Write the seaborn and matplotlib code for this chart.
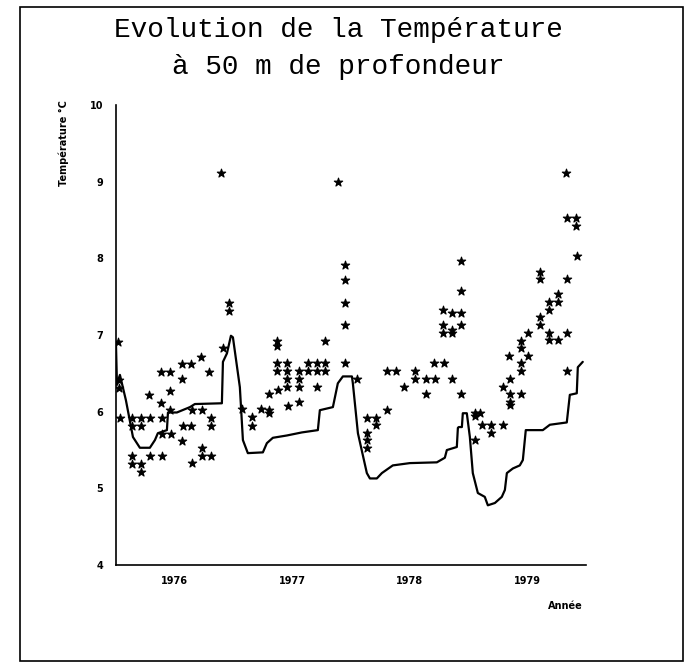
import numpy as np
import pandas as pd
import matplotlib
matplotlib.use("Agg")
import matplotlib.pyplot as plt
from matplotlib.patches import Rectangle
import seaborn as sns

# Courbe (temperature modelisee), annee decimale / degres C
annee_courbe = [1976.000, 1976.009, 1976.034, 1976.085, 1976.145, 1976.204, 1976.289,
                1976.332, 1976.357, 1976.434, 1976.443, 1976.519, 1976.630, 1976.672,
                1976.902, 1976.911, 1976.945, 1976.979, 1976.996, 1977.055, 1977.081,
                1977.123, 1977.251, 1977.285, 1977.336, 1977.455, 1977.583, 1977.719,
                1977.736, 1977.847, 1977.889, 1977.932, 1978.009, 1978.017, 1978.060,
                1978.136, 1978.162, 1978.221, 1978.264, 1978.357, 1978.502, 1978.732,
                1978.800, 1978.817, 1978.902, 1978.911, 1978.919, 1978.945, 1978.953,
                1978.987, 1979.013, 1979.038, 1979.081, 1979.140, 1979.166, 1979.226,
                1979.285, 1979.311, 1979.328, 1979.379, 1979.438, 1979.464, 1979.489,
                1979.566, 1979.634, 1979.694, 1979.838, 1979.864, 1979.923, 1979.932,
                1979.974]
temp_courbe = [6.91, 6.35, 6.48, 6.15, 5.67, 5.53, 5.53,
               5.63, 5.72, 5.76, 5.99, 5.99, 6.06, 6.10,
               6.11, 6.65, 6.76, 6.99, 6.97, 6.32, 5.63,
               5.46, 5.47, 5.59, 5.66, 5.69, 5.73, 5.76,
               6.02, 6.06, 6.37, 6.46, 6.46, 6.37, 5.72,
               5.20, 5.13, 5.13, 5.20, 5.30, 5.33, 5.34,
               5.40, 5.50, 5.54, 5.79, 5.80, 5.80, 5.98,
               5.98, 5.67, 5.20, 4.94, 4.89, 4.78, 4.81,
               4.89, 4.98, 5.20, 5.26, 5.30, 5.37, 5.76,
               5.76, 5.76, 5.83, 5.86, 6.22, 6.24, 6.58,
               6.65]

# Mesures (points)
annee_mes = [1976.017, 1976.026, 1976.026, 1976.034, 1976.136, 1976.136, 1976.213, 1976.213,
             1976.289, 1976.391, 1976.136, 1976.136, 1976.213, 1976.213, 1976.289, 1976.391,
             1976.281, 1976.383, 1976.383, 1976.460, 1976.460, 1976.562, 1976.638, 1976.562,
             1976.723, 1976.791, 1976.391, 1976.468, 1976.460, 1976.570, 1976.638, 1976.562,
             1976.647, 1976.732, 1976.732, 1976.732, 1976.809, 1976.647, 1976.809, 1976.809,
             1976.911, 1976.962, 1976.962, 1976.894,
             1977.072, 1977.157, 1977.157, 1977.234, 1977.302, 1977.302, 1977.302, 1977.379,
             1977.370, 1977.370, 1977.370, 1977.370, 1977.455, 1977.455, 1977.455, 1977.455,
             1977.557, 1977.557, 1977.557, 1977.557, 1977.464, 1977.634, 1977.711, 1977.779,
             1977.634, 1977.711, 1977.779, 1977.711, 1977.779, 1977.889, 1977.949, 1977.949,
             1977.949, 1977.949, 1977.949,
             1978.051, 1978.136, 1978.213, 1978.213, 1978.136, 1978.136, 1978.136, 1978.306,
             1978.306, 1978.383, 1978.451, 1978.545, 1978.545, 1978.638, 1978.715, 1978.638,
             1978.706, 1978.791, 1978.860, 1978.936, 1978.783, 1978.783, 1978.783, 1978.860,
             1978.936, 1978.860, 1978.860, 1978.936, 1978.936, 1978.936,
             1979.055, 1979.098, 1979.055, 1979.115, 1979.191, 1979.191, 1979.055, 1979.294,
             1979.294, 1979.353, 1979.353, 1979.353, 1979.353, 1979.447, 1979.345, 1979.447,
             1979.447, 1979.447, 1979.447, 1979.506, 1979.506, 1979.609, 1979.609, 1979.609,
             1979.609, 1979.685, 1979.685, 1979.762, 1979.762, 1979.685, 1979.685, 1979.762,
             1979.838, 1979.838, 1979.838, 1979.838, 1979.915, 1979.915, 1979.923, 1979.830]
temp_mes = [6.91, 6.41, 6.31, 5.92, 5.92, 5.81, 5.92, 5.81,
            5.92, 5.92, 5.42, 5.32, 5.32, 5.21, 5.42, 5.42,
            6.22, 6.11, 6.52, 6.52, 6.27, 6.62, 6.62, 6.43,
            6.71, 6.52, 5.71, 5.71, 6.02, 5.81, 5.81, 5.62,
            6.02, 6.02, 5.53, 5.42, 5.42, 5.33, 5.92, 5.81,
            6.83, 7.42, 7.31, 9.11,
            6.03, 5.93, 5.81, 6.03, 6.02, 5.98, 6.23, 6.28,
            6.92, 6.86, 6.63, 6.53, 6.63, 6.53, 6.43, 6.32,
            6.53, 6.43, 6.32, 6.13, 6.07, 6.63, 6.63, 6.63,
            6.53, 6.53, 6.53, 6.32, 6.92, 8.99, 7.91, 7.72,
            7.42, 7.13, 6.63,
            6.43, 5.92, 5.92, 5.83, 5.72, 5.63, 5.53, 6.02,
            6.53, 6.53, 6.32, 6.53, 6.43, 6.43, 6.43, 6.23,
            6.63, 6.63, 6.43, 6.23, 7.32, 7.13, 7.02, 7.29,
            7.29, 7.06, 7.02, 7.13, 7.96, 7.57,
            5.98, 5.98, 5.94, 5.83, 5.83, 5.72, 5.63, 5.83,
            6.32, 6.23, 6.13, 6.09, 6.43, 6.23, 6.72, 6.63,
            6.53, 6.83, 6.92, 6.72, 7.02, 7.23, 7.13, 7.82,
            7.73, 7.43, 7.32, 7.43, 7.53, 7.02, 6.93, 6.93,
            7.02, 6.53, 7.73, 8.52, 8.52, 8.42, 8.03, 9.11]

annees = [1976, 1977, 1978, 1979]
yticks = [4, 5, 6, 7, 8, 9, 10]

df_courbe = pd.DataFrame({"Annee": annee_courbe, "Temp": temp_courbe})
df_mes = pd.DataFrame({"Annee": annee_mes, "Temp": temp_mes})

sns.set_style("white")
plt.rcParams["font.family"] = ["DejaVu Sans"]
plt.rcParams["text.color"] = "black"
plt.rcParams["xtick.color"] = "black"
plt.rcParams["ytick.color"] = "black"

fig = plt.figure(figsize=(6.9, 6.68), dpi=100)
ax = fig.add_axes([0.168, 0.154, 0.681, 0.689])

sns.lineplot(data=df_courbe, x="Annee", y="Temp", sort=False, color="black",
             linewidth=1.6, ax=ax)
sns.scatterplot(data=df_mes, x="Annee", y="Temp", marker="*", s=40, color="black",
                edgecolor="black", linewidth=0.8, ax=ax, zorder=3)

ax.set_xlim(1976, 1980)
ax.set_ylim(4, 10)
ax.set_yticks(yticks)
ax.set_yticklabels([str(v) for v in yticks], fontsize=7, fontweight="bold")
ax.set_xticks([a + 1 for a in annees])
ax.set_xticklabels([])
ax.set_xticks([a + 0.5 for a in annees], minor=True)
ax.set_xticklabels([str(a) for a in annees], minor=True, fontsize=7, fontweight="bold")
ax.tick_params(axis="x", which="minor", length=0, pad=8)
ax.tick_params(axis="x", which="major", direction="out", length=5, width=1, color="black")
ax.tick_params(axis="y", direction="out", length=5, width=1, color="black", pad=4)
ax.set_xlabel("")
ax.set_ylabel("")
sns.despine(ax=ax)
for side in ["left", "bottom"]:
    ax.spines[side].set_color("black")
    ax.spines[side].set_linewidth(1.2)

# titre et textes
fig.text(0.49, 0.955, "Evolution de la Température", ha="center", va="center",
         fontsize=20, family="Liberation Mono", color="black")
fig.text(0.49, 0.90, "à 50 m de profondeur", ha="center", va="center",
         fontsize=20, family="Liberation Mono", color="black")
fig.text(0.092, 0.85, "Température °C", rotation=90, ha="center", va="top",
         fontsize=7, fontweight="bold", color="black")
fig.text(0.82, 0.093, "Année", ha="center", va="center", fontsize=7, fontweight="bold",
         color="black")

# cadre exterieur
fig.patches.append(Rectangle((0.029, 0.0105), 0.961, 0.979, transform=fig.transFigure,
                             fill=False, edgecolor="black", linewidth=1.2))

fig.savefig("out.png", dpi=100)
